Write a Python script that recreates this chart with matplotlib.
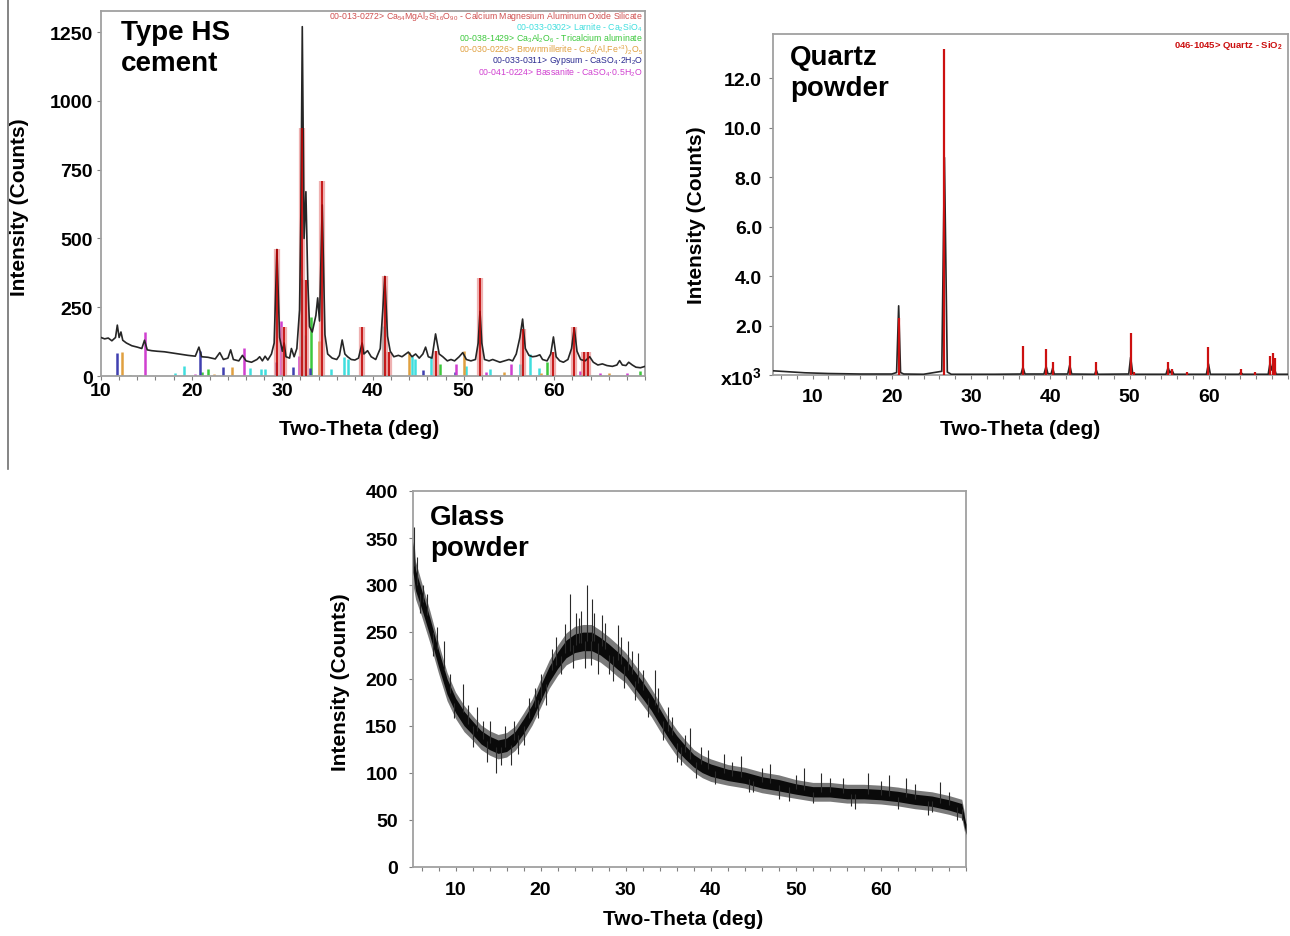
import matplotlib
matplotlib.use('Agg')
import matplotlib.pyplot as plt
from matplotlib.lines import Line2D
from matplotlib.ticker import MultipleLocator

plt.rcParams['font.family'] = ['Liberation Sans', 'DejaVu Sans']
plt.rcParams['font.weight'] = 'bold'
plt.rcParams['mathtext.default'] = 'regular'

# ---------------- Type HS cement: measured trace ----------------
cement_x = [10.0, 10.4, 10.8, 11.2, 11.6, 11.8, 12.0, 12.2, 12.4, 12.8, 13.4, 14.0, 14.5, 14.8, 15.1,
            15.6, 16.2, 17.0, 17.6, 18.2, 19.0, 19.6, 20.4, 20.8, 21.1, 21.8, 22.6, 23.1, 23.5, 24.0,
            24.3, 24.6, 25.2, 25.6, 26.0, 26.6, 27.2, 27.5, 27.8, 28.1, 28.4, 28.8, 29.1, 29.4, 29.7,
            30.0, 30.2, 30.4, 30.8, 31.0, 31.3, 31.6, 31.9, 32.05, 32.2, 32.4, 32.6, 32.8, 33.0, 33.3,
            33.7, 33.9, 34.1, 34.4, 34.7, 35.0, 35.5, 36.0, 36.3, 36.6, 36.9, 37.2, 37.6, 38.0, 38.4,
            38.8, 39.0, 39.4, 39.8, 40.3, 40.8, 41.1, 41.3, 41.6, 41.9, 42.3, 42.8, 43.2, 43.6, 43.9,
            44.3, 44.7, 45.1, 45.5, 45.8, 46.1, 46.5, 46.9, 47.3, 47.7, 48.2, 48.6, 49.0, 49.5, 49.9,
            50.3, 50.8, 51.3, 51.6, 51.8, 52.0, 52.3, 52.8, 53.2, 53.6, 54.0, 54.5, 55.0, 55.4, 55.8,
            56.2, 56.5, 56.8, 57.2, 57.6, 58.0, 58.4, 58.7, 59.2, 59.6, 59.9, 60.2, 60.6, 61.0, 61.5,
            61.9, 62.2, 62.5, 62.9, 63.4, 63.9, 64.3, 64.8, 65.3, 65.8, 66.4, 66.9, 67.2, 67.5, 67.9,
            68.2, 68.6, 69.0, 69.5, 70.0]
cement_y = [140, 135, 138, 128, 140, 185, 140, 160, 130, 120, 110, 105, 100, 130, 95,
            92, 90, 88, 85, 82, 78, 75, 72, 105, 70, 68, 62, 85, 60, 65,
            95, 60, 55, 75, 55, 50, 60, 70, 55, 72, 58, 80, 120, 460, 140,
            90, 120, 70, 65, 100, 70, 100, 240, 600, 1270, 500, 670, 350, 180, 160,
            220, 284, 200, 622, 150, 80, 65, 60, 75, 131, 80, 70, 60, 58, 65,
            120, 80, 92, 70, 60, 100, 250, 362, 145, 90, 70, 75, 70, 80, 87,
            70, 80, 65, 80, 105, 70, 65, 153, 80, 70, 55, 60, 55, 70, 85,
            60, 55, 60, 120, 235, 120, 60, 55, 60, 55, 50, 55, 60, 55, 80,
            140, 207, 100, 75, 70, 72, 77, 60, 55, 80, 142, 70, 55, 50, 60,
            100, 175, 90, 60, 55, 70, 50, 40, 44, 38, 35, 40, 56, 40, 38,
            50, 40, 32, 30, 35]

# reference patterns (stick positions / relative heights)
alite_x = [29.4, 30.2, 32.2, 32.6, 34.4, 38.8, 41.3, 41.8, 46.9, 51.8, 56.5, 59.9, 62.2, 63.3, 63.7]
alite_h = [460, 177, 900, 350, 710, 178, 363, 87, 90, 356, 171, 87, 178, 88, 88]
larnite_x = [18.2, 19.2, 26.4, 27.7, 28.1, 32.05, 32.5, 35.35, 36.8, 37.2, 41.1, 44.3, 44.6, 46.4,
             50.3, 52.9, 56.2, 57.3, 58.3]
larnite_h = [10, 35, 29, 25, 25, 357, 150, 25, 69, 60, 183, 74, 60, 74, 37, 25, 44, 80, 30]
c3a_x = [13.2, 14.3, 21.1, 21.8, 33.2, 47.4, 59.2, 69.5]
c3a_h = [5, 5, 15, 25, 216, 44, 50, 19]
brown_x = [12.3, 22.5, 24.4, 34.0, 44.0, 50.0, 54.5, 58.5, 66.0]
brown_h = [87, 8, 33, 128, 87, 90, 15, 12, 10]
gypsum_x = [11.8, 20.9, 23.5, 29.3, 31.2, 33.0, 45.5, 49.0]
gypsum_h = [84, 92, 32, 50, 33, 30, 20, 15]
bass_x = [14.8, 20.4, 25.75, 29.8, 31.8, 49.2, 52.5, 55.2, 62.8, 65.0, 68.0]
bass_h = [161, 8, 102, 201, 74, 44, 15, 44, 19, 10, 12]

cement_legend = [
    ('00-013-0272> Ca$_{54}$MgAl$_2$Si$_{16}$O$_{90}$ - Calcium Magnesium Aluminum Oxide Silicate', '#d05050'),
    ('00-033-0302> Larnite - Ca$_2$SiO$_4$', '#40dede'),
    ('00-038-1429> Ca$_3$Al$_2$O$_6$ - Tricalcium aluminate', '#3cc83c'),
    ('00-030-0226> Brownmillerite - Ca$_2$(Al,Fe$^{+3}$)$_2$O$_5$', '#e0a040'),
    ('00-033-0311> Gypsum - CaSO$_4$·2H$_2$O', '#2a2a90'),
    ('00-041-0224> Bassanite - CaSO$_4$·0.5H$_2$O', '#d040d0'),
]

# ---------------- Quartz powder ----------------
quartz_x = [5, 6, 7, 8, 9, 10, 12, 14, 16, 18, 20, 20.6, 20.86, 21.1, 21.5, 24, 26.3, 26.64, 27.0, 27.5,
            30, 33, 36.3, 36.55, 36.8, 39.2, 39.47, 39.7, 40.1, 40.3, 40.5, 42.2, 42.45, 42.7, 45.6,
            45.8, 46.0, 49.9, 50.14, 50.4, 50.7, 54.6, 54.87, 55.1, 55.35, 55.6, 59.7, 59.96, 60.2,
            63.8, 64.03, 64.3, 67.5, 67.74, 67.9, 68.14, 68.3, 68.5, 69, 70]
quartz_y = [0.17, 0.15, 0.13, 0.11, 0.09, 0.08, 0.06, 0.05, 0.04, 0.04, 0.04, 0.10, 2.8, 0.10, 0.04,
            0.03, 0.15, 8.8, 0.12, 0.03, 0.03, 0.03, 0.04, 0.32, 0.04, 0.04, 0.35, 0.05, 0.05, 0.28,
            0.04, 0.04, 0.40, 0.04, 0.03, 0.20, 0.03, 0.04, 0.72, 0.06, 0.03, 0.03, 0.30, 0.08, 0.20,
            0.03, 0.03, 0.45, 0.03, 0.03, 0.10, 0.03, 0.03, 0.50, 0.20, 0.45, 0.25, 0.03, 0.03, 0.03]
qref_x = [20.86, 26.64, 36.55, 39.47, 40.3, 42.45, 45.8, 50.14, 50.6, 54.87, 55.35, 57.2, 59.96,
          64.03, 65.8, 67.74, 68.14, 68.3]
qref_h = [2.3, 13.2, 1.16, 1.05, 0.51, 0.78, 0.51, 1.70, 0.11, 0.51, 0.24, 0.11, 1.15, 0.24, 0.11,
          0.78, 0.88, 0.69]
quartz_yticks = [0, 2, 4, 6, 8, 10, 12]
quartz_yticklabels = ['x10$^3$', '2.0', '4.0', '6.0', '8.0', '10.0', '12.0']

# ---------------- Glass powder (amorphous hump) ----------------
glass_x = [5, 5.3, 6, 7, 8, 9, 10, 11, 12, 13, 14, 15, 16, 17, 18, 19, 20, 21, 22, 23, 24, 25, 26,
           27, 28, 29, 30, 31, 32, 33, 34, 35, 36, 37, 38, 39, 40, 42, 44, 46, 48, 50, 52, 54, 56,
           58, 60, 62, 64, 66, 68, 69.5, 70]
glass_mid = [330, 305, 285, 255, 222, 192, 172, 158, 148, 138, 132, 128, 130, 137, 150, 165, 185,
             205, 220, 232, 238, 240, 240, 235, 228, 220, 212, 200, 188, 175, 160, 145, 132, 122,
             113, 107, 103, 98, 95, 90, 87, 83, 80, 80, 78, 78, 77, 75, 72, 70, 66, 62, 40]
glass_half = [30, 20, 18, 17, 16, 15, 14, 14, 13, 13, 13, 13, 13, 13, 14, 14, 15, 15, 16, 17, 18,
              18, 18, 17, 17, 17, 16, 16, 16, 15, 15, 14, 14, 13, 12, 12, 12, 11, 11, 11, 11, 10,
              10, 10, 10, 10, 10, 10, 10, 10, 10, 10, 10]
# individual noise excursions (position, start, end)
spike_x = [5.1, 5.5, 6.2, 8.6, 10.9, 12.5, 14.0, 14.8, 16.5, 18.6, 20.1, 21.8, 22.9, 23.4, 24.2,
           24.8, 25.5, 25.9, 26.3, 27.2, 28.0, 29.1, 30.3, 31.5, 33.4, 35.0, 36.0, 37.5, 39.7,
           41.5, 43.5, 45.0, 47.0, 49.2, 51.0, 53.0, 55.5, 57.0, 58.5, 61.0, 63.0, 65.5, 67.0, 69.0,
           5.8, 6.6, 7.3, 7.8, 9.3, 9.8, 11.5, 12.1, 13.2, 13.7, 15.3, 15.8, 16.9, 17.4, 18.1,
           19.3, 19.7, 20.6, 21.3, 22.4, 23.8, 24.5, 25.2, 26.0, 26.7, 27.6, 28.5, 29.5, 29.8,
           30.7, 31.1, 32.0, 32.6, 33.8, 34.4, 35.4, 36.5, 37.0, 38.3, 38.8, 40.5, 42.5, 44.5,
           46.0, 48.0, 50.0, 52.0, 54.0, 56.5, 60.0, 62.0, 64.0, 66.0, 68.0, 69.5]
spike_base = [320, 300, 282, 210, 165, 145, 132, 128, 130, 158, 180, 215, 228, 230, 236,
              238, 240, 240, 240, 235, 226, 220, 210, 196, 172, 145, 132, 115, 104,
              100, 96, 92, 89, 85, 82, 80, 79, 78, 78, 76, 74, 70, 68, 64,
              290, 268, 250, 232, 185, 175, 152, 150, 136, 134, 128, 128, 135, 140, 150,
              170, 178, 195, 210, 225, 236, 238, 240, 240, 238, 232, 224, 216, 214,
              205, 198, 188, 180, 165, 155, 140, 128, 122, 112, 110, 102, 97, 94,
              90, 87, 83, 80, 80, 78, 77, 75, 72, 70, 66, 62]
spike_tip = [362, 330, 300, 240, 195, 170, 155, 100, 108, 180, 205, 245, 258, 290, 270,
             272, 300, 215, 270, 268, 205, 257, 240, 228, 210, 170, 112, 148, 125,
             120, 118, 80, 110, 70, 105, 100, 95, 62, 100, 98, 95, 55, 90, 50,
             270, 290, 225, 255, 205, 158, 172, 128, 155, 112, 108, 150, 155, 120, 130,
             190, 158, 172, 232, 205, 212, 265, 212, 285, 205, 260, 198, 245, 190,
             230, 178, 210, 160, 190, 135, 160, 108, 140, 95, 128, 88, 112, 80,
             105, 72, 98, 68, 95, 65, 92, 62, 88, 58, 80, 50]

W, H = 1290, 937
fig = plt.figure(figsize=(W / 100, H / 100), dpi=100)


def make_axes(l, t, r, b):
    return fig.add_axes([l / W, 1 - b / H, (r - l) / W, (b - t) / H])


def style(ax, xpad, ypad):
    for s in ax.spines.values():
        s.set_color('#a0a0a0')
        s.set_linewidth(1.3)
    ax.tick_params(axis='both', which='both', direction='out', length=3, width=0.8,
                   color='#808080', labelsize=14)
    ax.tick_params(axis='x', pad=xpad)
    ax.tick_params(axis='y', pad=ypad)
    ax.xaxis.set_minor_locator(MultipleLocator(2))


TRACE = '#262626'
TITLE = dict(fontsize=20, fontweight='bold', va='top', ha='left', linespacing=1.25)

# ---------- panel 1 ----------
ax1 = make_axes(101, 12, 645, 377)
ax1.set_xlim(10, 70)
ax1.set_ylim(0, 1327)
phases = [(larnite_x, larnite_h, '#40dede'), (c3a_x, c3a_h, '#3cc83c'), (brown_x, brown_h, '#e0a040'),
          (gypsum_x, gypsum_h, '#4040b0'), (bass_x, bass_h, '#d040d0')]
for xs, hs, c in phases:
    ax1.vlines(xs, 0, hs, colors=c, linewidth=1.8, zorder=2)
ax1.vlines(alite_x, 0, alite_h, colors='#e89090', linewidth=4.5, alpha=0.7, zorder=2)
ax1.plot(cement_x, cement_y, color=TRACE, linewidth=1.2, zorder=3)
ax1.vlines(alite_x, 0, alite_h, colors='#c00000', linewidth=1.4, alpha=0.85, zorder=4)
ax1.set_xticks([10, 20, 30, 40, 50, 60])
ax1.set_yticks([0, 250, 500, 750, 1000, 1250])
style(ax1, 1, 3)
ax1.text(0.037, 0.978, 'Type HS\ncement', transform=ax1.transAxes, **TITLE)
for i, (txt, c) in enumerate(cement_legend):
    ax1.text(0.996, 0.987 - i * 0.0305, txt, transform=ax1.transAxes, fontsize=6.3,
             fontweight='normal', color=c, ha='right', va='center')

# ---------- panel 2 ----------
ax2 = make_axes(773, 35, 1288, 376)
ax2.set_xlim(5, 70)
ax2.set_ylim(0, 13.8)
ax2.plot(quartz_x, quartz_y, color=TRACE, linewidth=1.2, zorder=3)
ax2.vlines(qref_x, 0, qref_h, colors='#cc1010', linewidth=1.6, zorder=4)
ax2.set_xticks([10, 20, 30, 40, 50, 60])
ax2.set_yticks(quartz_yticks)
ax2.set_yticklabels(quartz_yticklabels)
style(ax2, 6, 5)
ax2.text(0.033, 0.97, 'Quartz\npowder', transform=ax2.transAxes, **TITLE)
ax2.text(0.990, 0.968, '046-1045> Quartz - SiO$_2$', transform=ax2.transAxes, fontsize=6.8,
         fontweight='bold', color='#cc1010', ha='right', va='center')

# ---------- panel 3 ----------
ax3 = make_axes(413, 492, 966, 868)
ax3.set_xlim(5, 70)
ax3.set_ylim(0, 400)
lo_out = [m - h for m, h in zip(glass_mid, glass_half)]
hi_out = [m + h for m, h in zip(glass_mid, glass_half)]
lo_in = [m - 0.55 * h for m, h in zip(glass_mid, glass_half)]
hi_in = [m + 0.55 * h for m, h in zip(glass_mid, glass_half)]
ax3.fill_between(glass_x, lo_out, hi_out, color='#7a7a7a', linewidth=0, zorder=2)
ax3.fill_between(glass_x, lo_in, hi_in, color='#0a0a0a', linewidth=0, zorder=3)
ax3.vlines(spike_x, spike_base, spike_tip, colors='#2a2a2a', linewidth=0.8, zorder=3)
ax3.set_xticks([10, 20, 30, 40, 50, 60])
ax3.set_yticks([0, 50, 100, 150, 200, 250, 300, 350, 400])
style(ax3, 7, 8)
ax3.text(0.031, 0.965, 'Glass\npowder', transform=ax3.transAxes, **TITLE)

# ---------- axis labels ----------
lab = dict(fontsize=15, fontweight='bold', ha='center', va='center')
fig.text(20 / W, 1 - 207 / H, 'Intensity (Counts)', rotation=90, **lab)
fig.text(697 / W, 1 - 215 / H, 'Intensity (Counts)', rotation=90, **lab)
fig.text(340 / W, 1 - 682 / H, 'Intensity (Counts)', rotation=90, **lab)
fig.text(359 / W, 1 - 430 / H, 'Two-Theta (deg)', **lab)
fig.text(1020 / W, 1 - 430 / H, 'Two-Theta (deg)', **lab)
fig.text(683 / W, 1 - 920 / H, 'Two-Theta (deg)', **lab)

# divider line at the left edge
fig.add_artist(Line2D([8 / W, 8 / W], [1, 1 - 470 / H], color='#707070', linewidth=1.2))

fig.savefig('out.png', dpi=100)
